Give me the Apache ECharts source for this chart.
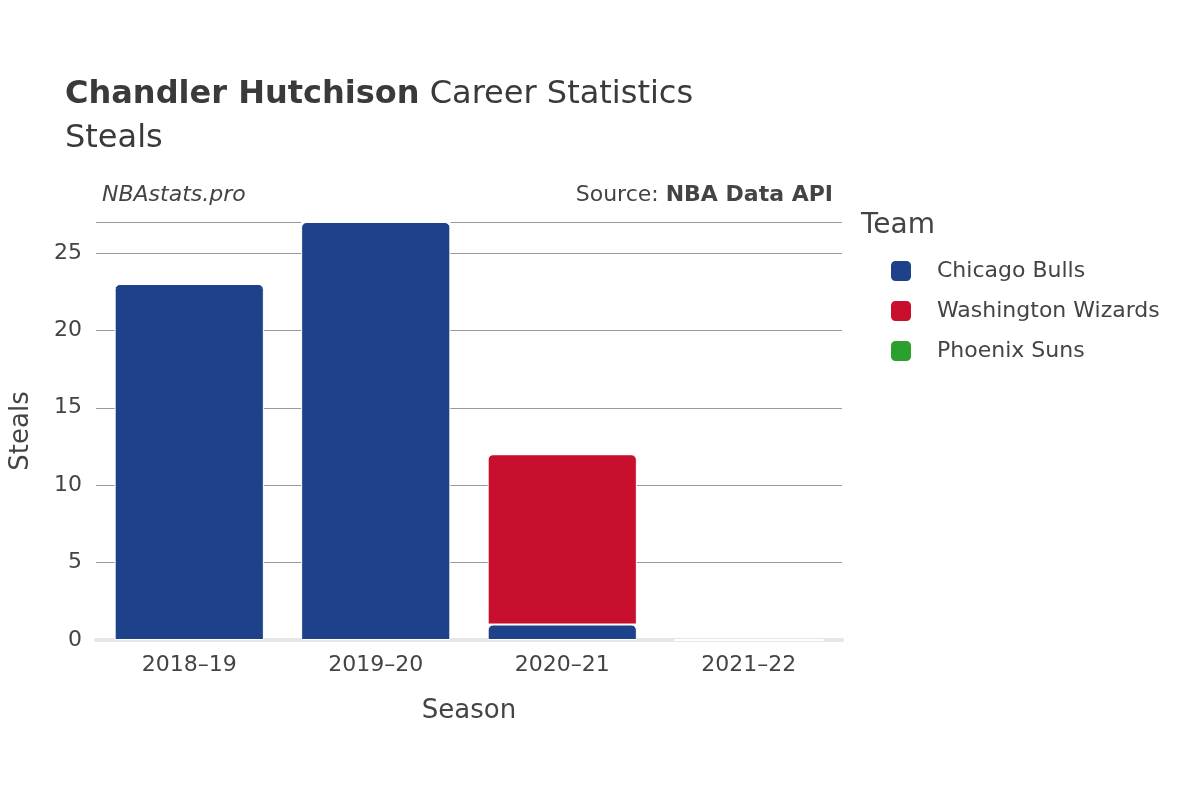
<!DOCTYPE html>
<html><head><meta charset="utf-8">
<script src="https://cdn.jsdelivr.net/npm/echarts@6/dist/echarts.min.js"></script>
<style>html,body{margin:0;padding:0;background:#fff}#c{width:1200px;height:800px}</style>
</head><body><div id="c"></div>
<script>
const seasons = ["2018–19","2019–20","2020–21","2021–22"];
const teams = ["Chicago Bulls","Washington Wizards","Phoenix Suns"];
const colors = ["#1d428a","#c8102e","#2ca02c"];
const bulls = [23,27,1,0];
const wizards = [0,0,11,0];
const suns = [0,0,0,0];
const yTicks = [0,5,10,15,20,25];
const vals = [bulls,wizards,suns];
const F = "DejaVu Sans";
const chart = echarts.init(document.getElementById('c'));
chart.setOption({
  textStyle:{fontFamily:F},
  title:[
    {text:"{b|Chandler Hutchison} Career Statistics\nSteals",left:60,top:68,
     textStyle:{fontFamily:F,fontSize:32,color:"#3a3a3a",fontWeight:"normal",lineHeight:44,
       rich:{b:{fontFamily:F,fontSize:32,fontWeight:"bold",color:"#3a3a3a"}}}},
    {text:"NBAstats.pro",left:97,top:179,textStyle:{fontFamily:F,fontSize:22,fontStyle:"italic",fontWeight:"normal",color:"#444"}},
    {text:"Source: {b|NBA Data API}",right:362,top:179,textStyle:{fontFamily:F,fontSize:22,fontWeight:"normal",color:"#444",
       rich:{b:{fontFamily:F,fontSize:22,fontWeight:"bold",color:"#444"}}}}
  ],
  legend:{orient:"vertical",left:884,top:254,itemWidth:22,itemHeight:22,itemGap:16,icon:"roundRect",
    textStyle:{fontFamily:F,fontSize:22,color:"#444",padding:[0,0,0,20]},data:teams},
  graphic:[{type:"text",left:861,top:212,style:{text:"Team",font:"28px DejaVu Sans",fill:"#444"}}],
  grid:{left:95,right:358,top:222,bottom:160,containLabel:false},
  xAxis:{type:"category",data:seasons,name:"Season",nameLocation:"middle",nameGap:58,
    nameTextStyle:{fontFamily:F,fontSize:26,color:"#444"},
    axisLine:{show:true,lineStyle:{color:"#e6e6e6",width:4}},axisTick:{show:false},
    axisLabel:{fontFamily:F,fontSize:22,color:"#444",margin:14}},
  yAxis:{type:"value",min:0,max:27,interval:5,name:"Steals",nameLocation:"middle",nameGap:62,
    nameTextStyle:{fontFamily:F,fontSize:26,color:"#444"},
    axisLabel:{fontFamily:F,fontSize:22,color:"#444",margin:14,formatter:v=>yTicks.includes(v)?v:""},
    splitLine:{lineStyle:{color:"#999",width:1}},axisLine:{show:false},axisTick:{show:false}},
  series:teams.map((t,i)=>({name:t,type:"bar",stack:"s",data:vals[i],barCategoryGap:"20%",
    itemStyle:{color:colors[i],borderRadius:i===0?[5,5,0,0]:[5,5,0,0],borderColor:"#fff",borderWidth:1}}))
});
</script></body></html>
